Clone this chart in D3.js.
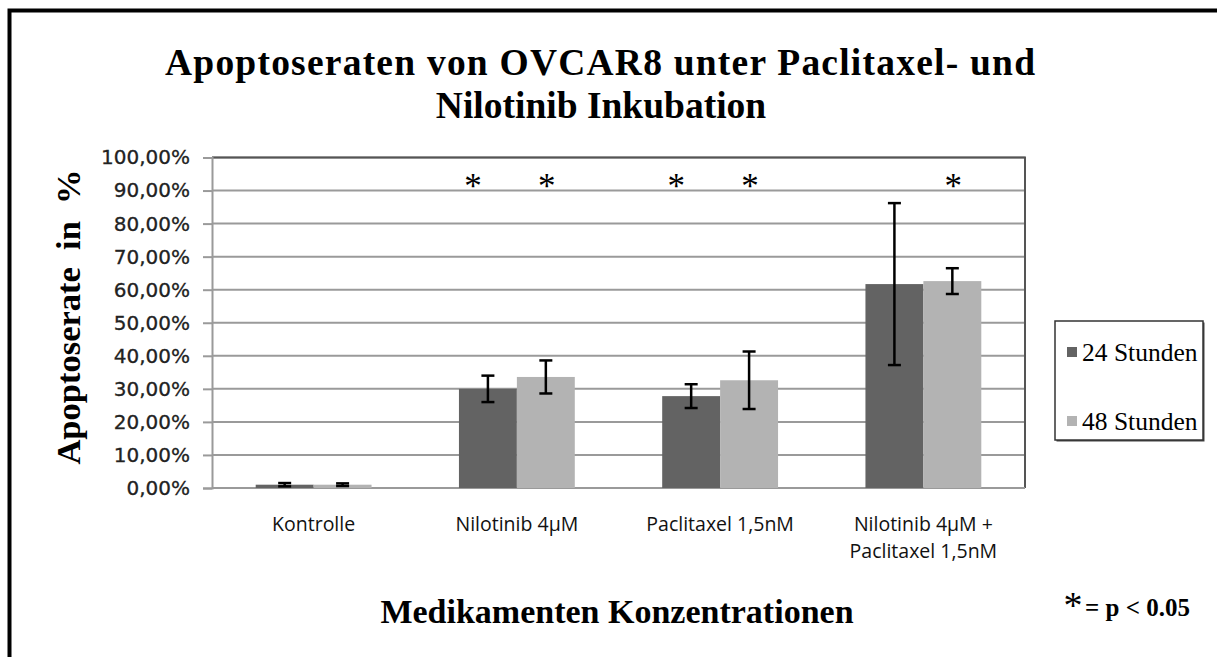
<!DOCTYPE html>
<html>
<head>
<meta charset="utf-8">
<script src="https://cdn.jsdelivr.net/npm/d3@7"></script>
<style>
  html, body { margin: 0; padding: 0; background: #fff; }
</style>
</head>
<body>
<script>
const categories = ['Kontrolle', 'Nilotinib 4µM', 'Paclitaxel 1,5nM', 'Nilotinib 4µM +\nPaclitaxel 1,5nM'];
const seriesNames = ['24 Stunden', '48 Stunden'];
const values24 = [0.010, 0.300, 0.278, 0.617];
const values48 = [0.010, 0.336, 0.326, 0.626];
const errors24 = [0.005, 0.040, 0.036, 0.245];
const errors48 = [0.004, 0.050, 0.087, 0.039];
// [category index, series index] marked as significant
const significant = [[1, 0], [1, 1], [2, 0], [2, 1], [3, 1]];
const yTicks = [0, 0.1, 0.2, 0.3, 0.4, 0.5, 0.6, 0.7, 0.8, 0.9, 1.0];

const W = 1217, H = 657;
const plot = { left: 212, right: 1025, top: 157.5, bottom: 488 };
const colors = ['#636363', '#b3b3b3'];
const serif = '"Liberation Serif", "Times New Roman", serif';

const svg = d3.select('body').append('svg')
  .attr('width', W)
  .attr('height', H)
  .attr('xmlns', 'http://www.w3.org/2000/svg');

// outer frame (runs off right/bottom edge)
svg.append('rect')
  .attr('x', 9.5).attr('y', 10.5)
  .attr('width', 1400).attr('height', 1000)
  .attr('fill', '#fff')
  .attr('stroke', '#000')
  .attr('stroke-width', 4);

const x0 = d3.scaleBand()
  .domain(categories)
  .range([plot.left, plot.right])
  .paddingInner(0.43)
  .paddingOuter(0.215);

const x1 = d3.scaleBand()
  .domain(seriesNames)
  .range([0, x0.bandwidth()]);

const y = d3.scaleLinear()
  .domain([0, 1])
  .range([plot.bottom, plot.top]);

// gridlines
svg.append('g')
  .selectAll('line')
  .data(yTicks.slice(1))
  .join('line')
  .attr('x1', plot.left).attr('x2', plot.right)
  .attr('y1', d => y(d)).attr('y2', d => y(d))
  .attr('stroke', '#9a9a9a')
  .attr('stroke-width', 2);

// plot area border top + right
svg.append('path')
  .attr('d', `M${plot.left},${plot.top}H${plot.right}V${plot.bottom}`)
  .attr('fill', 'none')
  .attr('stroke', '#555')
  .attr('stroke-width', 2);

// y axis
const fmt = d => d3.format('.2f')(d * 100).replace('.', ',') + '%';
const yAxis = svg.append('g')
  .attr('transform', `translate(${plot.left},0)`)
  .call(d3.axisLeft(y).tickValues(yTicks).tickFormat(fmt).tickSize(9).tickPadding(13));
yAxis.select('.domain').attr('stroke', '#9a9a9a').attr('stroke-width', 2);
yAxis.selectAll('.tick line').attr('stroke', '#9a9a9a').attr('stroke-width', 2);
yAxis.selectAll('.tick text')
  .attr('font-family', '"DejaVu Sans", sans-serif')
  .attr('font-size', 20)
  .attr('stroke', '#222')
  .attr('stroke-width', 0.3)
  .attr('fill', '#222');

// x axis baseline
svg.append('line')
  .attr('x1', plot.left).attr('x2', plot.right)
  .attr('y1', plot.bottom).attr('y2', plot.bottom)
  .attr('stroke', '#9a9a9a')
  .attr('stroke-width', 2);

// bars
const rows = categories.map((c, i) => ({
  cat: c,
  vals: [
    { s: seriesNames[0], v: values24[i], e: errors24[i], k: 0 },
    { s: seriesNames[1], v: values48[i], e: errors48[i], k: 1 }
  ]
}));

const groups = svg.append('g')
  .selectAll('g')
  .data(rows)
  .join('g')
  .attr('transform', d => `translate(${x0(d.cat)},0)`);

groups.selectAll('rect')
  .data(d => d.vals)
  .join('rect')
  .attr('x', d => x1(d.s))
  .attr('y', d => y(d.v))
  .attr('width', x1.bandwidth())
  .attr('height', d => y(0) - y(d.v))
  .attr('fill', d => colors[d.k]);

// error bars
const eb = groups.selectAll('g.err')
  .data(d => d.vals)
  .join('g')
  .attr('class', 'err')
  .attr('transform', d => `translate(${x1(d.s) + x1.bandwidth() / 2},0)`)
  .attr('stroke', '#000')
  .attr('stroke-width', 2.5);
eb.append('line')
  .attr('y1', d => y(d.v + d.e)).attr('y2', d => y(d.v - d.e));
eb.append('line')
  .attr('x1', -6.5).attr('x2', 6.5)
  .attr('y1', d => y(d.v + d.e)).attr('y2', d => y(d.v + d.e));
eb.append('line')
  .attr('x1', -6.5).attr('x2', 6.5)
  .attr('y1', d => y(d.v - d.e)).attr('y2', d => y(d.v - d.e));

// significance asterisks
svg.append('g')
  .selectAll('text')
  .data(significant)
  .join('text')
  .attr('x', d => x0(categories[d[0]]) + x1(seriesNames[d[1]]) + x1.bandwidth() / 2 + (d[1] === 0 ? -15 : 1))
  .attr('y', 198)
  .attr('text-anchor', 'middle')
  .attr('font-family', serif)
  .attr('font-size', 35)
  .attr('fill', '#000')
  .text('*');

// category labels
const catText = svg.append('g')
  .selectAll('text')
  .data(categories)
  .join('text')
  .attr('x', d => x0(d) + x0.bandwidth() / 2)
  .attr('y', 531)
  .attr('text-anchor', 'middle')
  .attr('font-family', '"Open Sans", sans-serif')
  .attr('font-size', 19.5)
  .attr('fill', '#111');
catText.selectAll('tspan')
  .data(d => d.split('\n'))
  .join('tspan')
  .attr('x', function () { return d3.select(this.parentNode).attr('x'); })
  .attr('dy', (d, i) => i === 0 ? 0 : 27)
  .text(d => d);

// title
const title = svg.append('text')
  .attr('text-anchor', 'middle')
  .attr('font-family', serif)
  .attr('font-weight', 'bold')
  .attr('font-size', 37.5)
  .attr('fill', '#000');
title.append('tspan').attr('x', 600).attr('y', 75)
  .attr('textLength', 870).attr('lengthAdjust', 'spacing')
  .text('Apoptoseraten von OVCAR8 unter Paclitaxel- und');
title.append('tspan').attr('x', 601).attr('y', 118).text('Nilotinib Inkubation');

// axis titles
svg.append('text')
  .attr('transform', 'translate(80,317) rotate(-90)')
  .attr('text-anchor', 'middle')
  .attr('font-family', serif)
  .attr('font-weight', 'bold')
  .attr('font-size', 34.5)
  .attr('xml:space', 'preserve')
  .style('white-space', 'pre')
  .text('Apoptoserate  in  %');

svg.append('text')
  .attr('x', 617).attr('y', 623)
  .attr('text-anchor', 'middle')
  .attr('font-family', serif)
  .attr('font-weight', 'bold')
  .attr('font-size', 34)
  .text('Medikamenten Konzentrationen');

// legend
const legend = svg.append('g').attr('transform', 'translate(1055,321)');
legend.append('rect')
  .attr('x', 1.5).attr('y', 1.5)
  .attr('width', 148).attr('height', 119)
  .attr('fill', '#444');
legend.append('rect')
  .attr('width', 148).attr('height', 119)
  .attr('fill', '#fff')
  .attr('stroke', '#333')
  .attr('stroke-width', 1.5);
const li = legend.selectAll('g.item')
  .data(seriesNames)
  .join('g')
  .attr('class', 'item')
  .attr('transform', (d, i) => `translate(0,${31 + i * 69})`);
li.append('rect')
  .attr('x', 12).attr('y', -5)
  .attr('width', 10).attr('height', 10)
  .attr('fill', (d, i) => colors[i]);
li.append('text')
  .attr('x', 27).attr('y', 9)
  .attr('font-family', serif)
  .attr('font-size', 25.5)
  .attr('fill', '#000')
  .text(d => d);

// p-value note
svg.append('text')
  .attr('x', 1073).attr('y', 618)
  .attr('text-anchor', 'middle')
  .attr('font-family', serif)
  .attr('font-size', 38)
  .text('*');
svg.append('text')
  .attr('x', 1085).attr('y', 616)
  .attr('font-family', serif)
  .attr('font-weight', 'bold')
  .attr('font-size', 25)
  .text('= p < 0.05');
</script>
</body>
</html>
